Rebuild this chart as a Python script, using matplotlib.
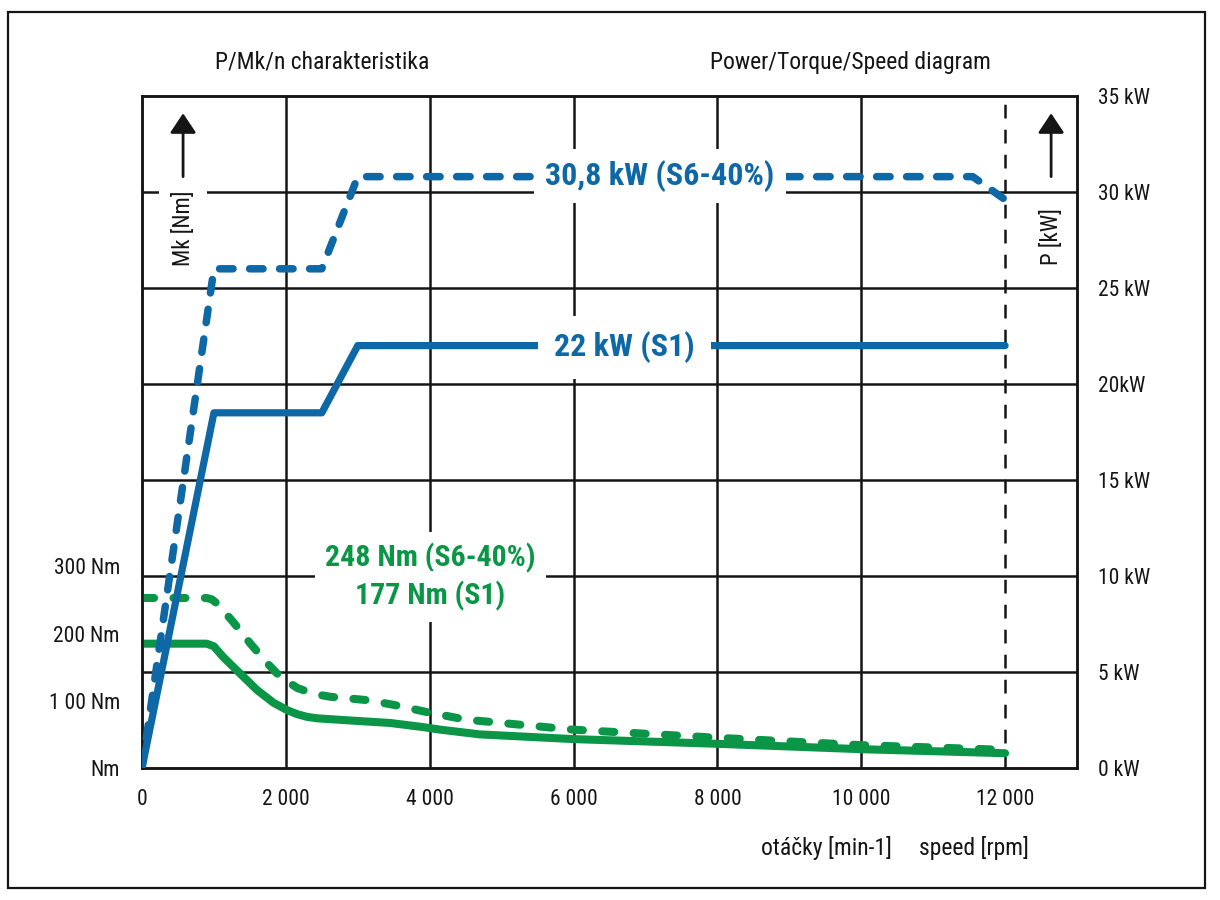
import matplotlib
matplotlib.use("Agg")
import matplotlib.pyplot as plt
from matplotlib import font_manager as fm
from matplotlib.patches import Rectangle
from matplotlib.transforms import blended_transform_factory

# speed axis
SPEED_TICKS = [0, 2000, 4000, 6000, 8000, 10000, 12000]
SPEED_LABELS = ["0", "2 000", "4 000", "6 000", "8 000", "10 000", "12 000"]
SPEED_MAX = 13000

# power axis (right)
POWER_TICKS = [0, 5, 10, 15, 20, 25, 30, 35]
POWER_LABELS = ["0 kW", "5 kW", "10 kW", "15 kW", "20kW", "25 kW", "30 kW", "35 kW"]

# torque axis (left)
TORQUE_TICKS = [0, 100, 200, 300]
TORQUE_LABELS = ["Nm", "1 00 Nm", "200 Nm", "300 Nm"]
TORQUE_MAX = 1000

# power curves [kW]
p_s1_speed = [0, 1000, 2500, 3000, 12000]
p_s1 = [0, 18.5, 18.5, 22.0, 22.0]
p_s6_speed = [0, 1000, 2500, 3000, 11550, 12000]
p_s6 = [0, 26.0, 26.0, 30.8, 30.8, 29.6]

# torque curves [Nm]
t_s1_speed = [0, 900, 1000, 1130, 1360, 1600, 1830, 2020, 2160, 2300, 2430, 2570,
              3000, 3450, 3900, 4150, 4700, 6000, 8000, 10000, 12000]
t_s1 = [185, 185, 181, 165, 141, 116, 97, 86, 80, 76, 74, 73,
        70, 67, 61, 57, 50, 43, 36, 28, 22]
t_s6_speed = [0, 900, 970, 1040, 1270, 1500, 1740, 1920, 2160, 2400, 2620, 3130,
              3500, 3970, 4500, 6000, 8000, 10000, 12000]
t_s6 = [253, 253, 251, 245, 217, 186, 156, 136, 119, 110, 106, 101,
        94, 83, 72, 57, 45, 34, 27]

BLUE = "#0f68a6"
GREEN = "#0a9646"
INK = "#151515"

available = {f.name for f in fm.fontManager.ttflist}
FONT = next((c for c in ["Roboto Condensed", "Liberation Sans Narrow",
                         "Open Sans Condensed", "DejaVu Sans"] if c in available),
            "DejaVu Sans")
plt.rcParams["font.family"] = [FONT, "DejaVu Sans"]

fig = plt.figure(figsize=(12.2, 9.0), dpi=100)
fig.patches.append(Rectangle((0.0066, 0.0133), 0.981, 0.973, transform=fig.transFigure,
                             fill=False, lw=1.6, ec=INK))

ax_t = fig.add_axes([142 / 1220, 1 - 768 / 900, (1077 - 142) / 1220, (768 - 96) / 900])
ax_p = ax_t.twinx()

ax_t.set_xlim(0, SPEED_MAX)
ax_t.set_ylim(0, TORQUE_MAX)
ax_p.set_ylim(0, POWER_TICKS[-1])

ax_t.set_xticks(SPEED_TICKS, SPEED_LABELS)
ax_t.set_yticks(TORQUE_TICKS, TORQUE_LABELS)
ax_p.set_yticks(POWER_TICKS, POWER_LABELS)
ax_t.tick_params(axis="x", length=0, pad=15, labelsize=15.5, labelcolor=INK)
ax_t.tick_params(axis="y", length=0, pad=16, labelsize=15.5, labelcolor=INK)
ax_p.tick_params(axis="y", length=0, pad=15, labelsize=15.5, labelcolor=INK)
for a in (ax_t, ax_p):
    for s in a.spines.values():
        s.set_linewidth(1.8)
        s.set_color(INK)

# grid, drawn on the bottom axes so curves sit on top of it
kw_y = blended_transform_factory(ax_t.transAxes, ax_p.transData)
for h in POWER_TICKS[1:-1]:
    ax_t.plot([0, 1], [h, h], transform=kw_y, color=INK, lw=1.8, zorder=1)
for v in SPEED_TICKS[1:-1]:
    ax_t.axvline(v, color=INK, lw=1.8, zorder=1)
ax_t.axvline(SPEED_TICKS[-1], color=INK, lw=1.8, dashes=(5.5, 4.5), zorder=1)

# torque curves
ax_t.plot(t_s1_speed, t_s1, color=GREEN, lw=5.8, solid_capstyle="round",
          solid_joinstyle="round", zorder=3)
ax_t.plot(t_s6_speed, t_s6, color=GREEN, lw=5.8, dashes=(1.5, 2.4),
          dash_capstyle="round", dash_joinstyle="round", zorder=3)

# power curves
ax_p.plot(p_s1_speed, p_s1, color=BLUE, lw=5.2, solid_capstyle="round",
          solid_joinstyle="round", zorder=3)
ax_p.plot(p_s6_speed, p_s6, color=BLUE, lw=5.4, dashes=(1.8, 2.2),
          dash_capstyle="round", dash_joinstyle="round", zorder=3)

white = lambda pad: dict(boxstyle=f"square,pad={pad}", fc="white", ec="none")

ax_p.text(7200, 30.85, "30,8 kW (S6-40%)", color=BLUE, fontsize=23, fontweight="bold",
          ha="center", va="center", bbox=white(0.35), zorder=6)
ax_p.text(6710, 21.9, "22 kW (S1)", color=BLUE, fontsize=23, fontweight="bold",
          ha="center", va="center", bbox=white(0.5), zorder=6)
ax_p.text(4010, 10.95, "248 Nm (S6-40%)", color=GREEN, fontsize=21.5, fontweight="bold",
          ha="center", va="center", bbox=white(0.35), zorder=6)
ax_p.text(4010, 8.95, "177 Nm (S1)", color=GREEN, fontsize=21.5, fontweight="bold",
          ha="center", va="center", bbox=white(0.35), zorder=6)

# axis names with arrows inside the plot
ax_p.text(571, 28.1, "Mk [Nm]", rotation=90, fontsize=16.5, color=INK,
          ha="center", va="center", bbox=white(0.55), zorder=6)
ax_p.text(12640, 27.7, "P [kW]", rotation=90, fontsize=16.5, color=INK,
          ha="center", va="center", bbox=white(0.35), zorder=6)
for xs in (571, 12640):
    ax_p.annotate("", xy=(xs, 34.1), xytext=(xs, 30.8),
                  arrowprops=dict(arrowstyle="-|>,head_length=0.6,head_width=0.4",
                                  mutation_scale=20, lw=2, color=INK,
                                  shrinkA=0, shrinkB=0), zorder=6)

fig.text(322 / 1220, 1 - 62 / 900, "P/Mk/n charakteristika", fontsize=17, color=INK,
         ha="center", va="center")
fig.text(850 / 1220, 1 - 62 / 900, "Power/Torque/Speed diagram", fontsize=17, color=INK,
         ha="center", va="center")
fig.text(826 / 1220, 1 - 848 / 900, "otáčky [min-1]", fontsize=17, color=INK,
         ha="center", va="center")
fig.text(974 / 1220, 1 - 848 / 900, "speed [rpm]", fontsize=17, color=INK,
         ha="center", va="center")

fig.savefig("out.png", dpi=100)
